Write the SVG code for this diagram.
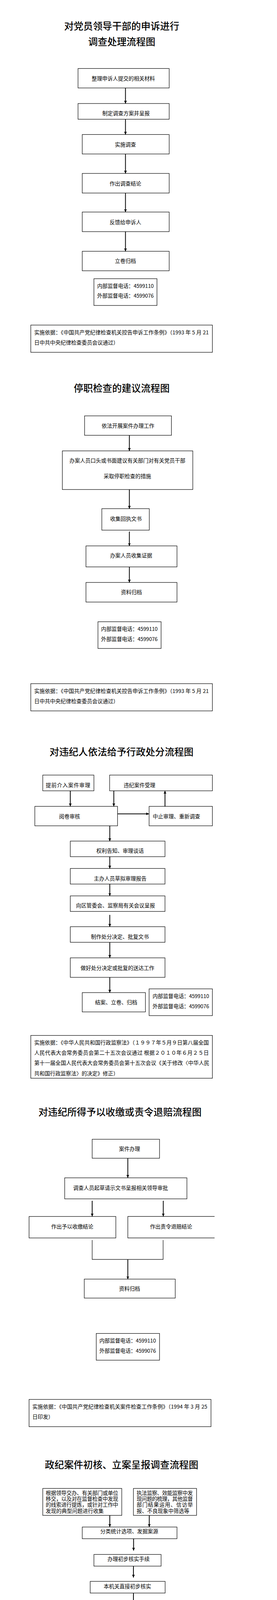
<svg xmlns="http://www.w3.org/2000/svg" width="710" height="7500" viewBox="0 0 710 7500">
<style>
text{font-family:"Noto Sans CJK SC","Noto Sans CJK JP",sans-serif;font-size:13.5px;fill:#000}
.m{text-anchor:middle}
.h{font-size:24.6px;font-weight:500}
.b{fill:#fff;stroke:#000;stroke-width:1.2}
.o{fill:none;stroke:#000;stroke-width:1.2}
.a{fill:none;stroke:#000;stroke-width:2;marker-end:url(#arr)}
.l{fill:none;stroke:#000;stroke-width:1.2}
</style>
<defs>
<marker id="arr" markerWidth="8" markerHeight="8" refX="7" refY="3.5" orient="auto" markerUnits="userSpaceOnUse"><path d="M0,0 L7,3.5 L0,7 z" fill="#000"/></marker>
</defs>
<rect width="710" height="7500" fill="#fff"/>

<!-- Section 1 -->
<g id="title1"><text class="h m" x="312" y="76.3">对党员领导干部的申诉进行</text><text class="h m" x="312" y="116.3">调查处理流程图</text></g>
<g id="s1n1"><rect class="b" x="200" y="175.4" width="233.6" height="49.8"/><text class="m" x="316" y="205.6">整理申诉人提交的相关材料</text></g>
<g id="s1n2"><rect class="b" x="200" y="265" width="233.6" height="40.3"/><text class="m" x="323" y="295.3">制定调查方案并呈报</text></g>
<g id="s1n3"><rect class="b" x="210.8" y="344.4" width="222.8" height="49.8"/><text class="m" x="321.6" y="374.6">实施调查</text></g>
<g id="s1n4"><rect class="b" x="210.8" y="444" width="222.8" height="50.2"/><text class="m" x="321.6" y="474.6">作出调查结论</text></g>
<g id="s1n5"><rect class="b" x="210.8" y="542.8" width="222.8" height="50.2"/><text class="m" x="321.6" y="573.9">反馈给申诉人</text></g>
<g id="s1n6"><rect class="b" x="210.8" y="643.3" width="222.8" height="49.9"/><text class="m" x="321.6" y="673.1">立卷归档</text></g>
<g id="s1phone"><rect class="b" x="240.7" y="713.5" width="161.7" height="68.5"/><text x="249" y="736.5" textLength="145">内部监督电话：4599110</text><text x="249" y="762.4" textLength="145">外部监督电话：4599076</text></g>
<g id="s1basis"><rect class="b" x="78.9" y="832.2" width="465.5" height="69.7"/><text x="87.7" y="855.7" textLength="447.3">实施依据：《中国共产党纪律检查机关控告申诉工作条例》（1993 年 5 月 21</text><text x="87.7" y="881.6">日中共中央纪律检查委员会议通过）</text></g>

<!-- Section 2 -->
<g id="title2"><text class="h m" x="312" y="1002.9">停职检查的建议流程图</text></g>
<g id="s2n1"><rect class="b" x="216.8" y="1064.6" width="222.6" height="49.8"/><text class="m" x="328" y="1094.8">依法开展案件办理工作</text></g>
<g id="s2n2"><rect class="b" x="159.8" y="1154.3" width="334.4" height="98.9"/><text class="m" x="326.4" y="1184.1">办案人员口头或书面建议有关部门对有关党员干部</text><text class="m" x="326.4" y="1224">采取停职检查的措施</text></g>
<g id="s2n3"><rect class="b" x="261" y="1302.2" width="121.6" height="55"/><text class="m" x="322.8" y="1332.8">收集回执文书</text></g>
<g id="s2n4"><rect class="b" x="220.4" y="1397.5" width="233.2" height="53.8"/><text class="m" x="336" y="1427.3">办案人员收集证据</text></g>
<g id="s2n5"><rect class="b" x="220.4" y="1491.1" width="233.2" height="50.2"/><text class="m" x="336.8" y="1521.3">资料归档</text></g>
<g id="s2phone"><rect class="b" x="251.1" y="1591.6" width="161.8" height="68.5"/><text x="259.1" y="1614.6" textLength="145">内部监督电话：4599110</text><text x="259.1" y="1640.5" textLength="145">外部监督电话：4599076</text></g>
<g id="s2basis"><rect class="b" x="78.9" y="1750.2" width="465.5" height="69.7"/><text x="87.7" y="1773.6" textLength="447.3">实施依据：《中国共产党纪律检查机关控告申诉工作条例》（1993 年 5 月 21</text><text x="87.7" y="1799.5">日中共中央纪律检查委员会议通过）</text></g>

<!-- Section 3 -->
<g id="title3"><text class="h m" x="311.5" y="1934.1">对违纪人依法给予行政处分流程图</text></g>
<g id="s3n1"><rect class="b" x="109.6" y="1984.2" width="131.1" height="40.3"/><text x="117.2" y="2014.8" textLength="114">提前介入案件审理</text></g>
<g id="s3n2"><rect class="b" x="281" y="1984.2" width="263.4" height="40.3"/><text x="316.9" y="2014.8">违纪案件受理</text></g>
<g id="s3n3"><rect class="b" x="89.3" y="2064.3" width="212" height="49.8"/><text class="m" x="178.2" y="2094.5">阅卷审核</text></g>
<g id="s3n4"><rect class="b" x="382.2" y="2064.3" width="162.2" height="49.8"/><text x="391.4" y="2094.5">中止审理、重新调查</text></g>
<g id="s3n5"><rect class="b" x="180.2" y="2153.2" width="242.7" height="39.9"/><text class="m" x="307.7" y="2183.4">权利告知、审理谈话</text></g>
<g id="s3n6"><rect class="b" x="180.2" y="2223.3" width="242.7" height="39.9"/><text class="m" x="307.9" y="2253.6">主办人员草拟审理报告</text></g>
<g id="s3n7"><rect class="b" x="180.2" y="2293.5" width="242.7" height="39.8"/><text class="m" x="295.9" y="2323.3">向区管委会、监察局有关会议呈报</text></g>
<g id="s3n8"><rect class="b" x="180.2" y="2372.4" width="242.7" height="39.9"/><text class="m" x="307.3" y="2402.6">制作处分决定、批复文书</text></g>
<g id="s3n9"><rect class="b" x="180.2" y="2452.1" width="242.7" height="49.9"/><text class="m" x="301.1" y="2482.7">做好处分决定或批复的送达工作</text></g>
<g id="s3n10"><rect class="b" x="210.8" y="2541.1" width="161.9" height="49.4"/><text class="m" x="297.7" y="2570.5">结案、立卷、归档</text></g>
<g id="s3phone"><rect class="b" x="382.2" y="2531.5" width="162.2" height="68.5"/><text x="391" y="2554.5" textLength="145">内部监督电话：4599110</text><text x="391" y="2580.8" textLength="145">外部监督电话：4599076</text></g>
<g id="s3basis"><rect class="b" x="78.9" y="2650.7" width="465.5" height="109.6"/><text x="87.7" y="2674.1" textLength="447.6">实施依据：《中华人民共和国行政监察法》（１９９７年５月９日第八届全国</text><text x="87.7" y="2700.4" textLength="447.6">人民代表大会常务委员会第二十五次会议通过 根据２０１０年６月２５日</text><text x="87.7" y="2726.3" textLength="448.8">第十一届全国人民代表大会常务委员会第十五次会议《关于修改〈中华人民</text><text x="87.7" y="2752.6">共和国行政监察法〉的决定》修正）</text></g>

<!-- Section 4 -->
<g id="title4"><text class="h m" x="307.5" y="2856">对违纪所得予以收缴或责令退赔流程图</text></g>
<g id="s4n1"><rect class="b" x="236.3" y="2916.5" width="172.6" height="48.6"/><text class="m" x="332" y="2945.5">案件办理</text></g>
<g id="s4n2"><rect class="b" x="165.8" y="3015.3" width="313.3" height="53.8"/><text class="m" x="309.1" y="3045.9">调查人员起草请示文书呈报相关领导审批</text></g>
<g id="s4n3"><rect class="b" x="74.5" y="3114.2" width="222.4" height="55"/><text class="m" x="185.3" y="3144.8">作出予以收缴结论</text></g>
<g id="s4n4"><path class="o" d="M550,3114.2 H327.6 V3169.2 H550"/><text class="m" x="438.4" y="3144.8">作出责令退赔结论</text></g>
<g id="s4n5"><rect class="b" x="216" y="3274.5" width="233.2" height="48.6"/><text class="m" x="332" y="3303.9">资料归档</text></g>
<g id="s4phone"><rect class="b" x="246.7" y="3413.6" width="162.2" height="68.5"/><text x="254.7" y="3436.6" textLength="145">内部监督电话：4599110</text><text x="254.7" y="3462.5" textLength="145">外部监督电话：4599076</text></g>
<g id="s4basis"><rect class="b" x="74.5" y="3582.5" width="466.3" height="69.8"/><text x="82.9" y="3605.6" textLength="448.4">实施依据：《中国共产党纪律检查机关案件检查工作条例》（1994 年 3 月 25</text><text x="82.9" y="3631.5">日印发）</text></g>

<!-- Section 5 -->
<g id="title5"><text class="h m" x="311.7" y="3759.1">政纪案件初核、立案呈报调查流程图</text></g>
<g id="s5n1"><rect class="b" x="109.6" y="3810.4" width="202.5" height="69"/><text x="117.2" y="3826.7" textLength="185.7">根据领导交办、有关部门或单位</text><text x="117.2" y="3841.8" textLength="185.7">移交，以及对在监督检查中发现</text><text x="117.2" y="3857.4" textLength="185.7">的线索进行提炼，或针对工作中</text><text x="117.2" y="3872.5">发现的典型问题进行收集</text></g>
<g id="s5n2"><rect class="b" x="342" y="3810.4" width="161.8" height="69"/><text x="350.3" y="3826.7" textLength="143.9">执法监察、效能监察中发</text><text x="350.3" y="3841.8" textLength="143.9">现问题的梳理，其他监督</text><text x="350.3" y="3857.4" textLength="143.9">部门结果运用、信访举</text><text x="350.3" y="3872.5">报、不良现象中筛选等</text></g>
<g id="s5n3"><rect class="b" x="210.8" y="3909.2" width="242.8" height="29.9"/><text class="m" x="331.3" y="3925.1">分类统计选项、发掘案源</text></g>
<g id="s5n4"><rect class="b" x="240.7" y="3979.4" width="172.2" height="29.9"/><text class="m" x="329.6" y="3996.1">办理初步核实手续</text></g>
<g id="s5n5"><rect class="b" x="231.2" y="4048.3" width="192.1" height="29.9"/><text class="m" x="326.4" y="4065.8">本机关直接初步核实</text></g>
<g id="s5n6"><rect class="b" x="261.1" y="4108.5" width="141.5" height="39.5"/><text class="m" x="331.5" y="4124.8">形成初核报告提出处</text><text class="m" x="331.5" y="4139.5">理建议报领导签批</text></g>
<g id="s5n7"><rect class="b" x="261.1" y="4188.2" width="151.8" height="29.9"/><text class="m" x="336.8" y="4204.5">对初核结果处理</text></g>
<g id="s5n8"><rect class="b" x="190.5" y="4247.2" width="131.1" height="59.8"/><text class="m" x="255.3" y="4264.7">失实的，一定范围</text><text class="m" x="255.3" y="4279.4">澄清轻微的，予以</text><text class="m" x="255.3" y="4294.2">恰当处理</text></g>
<g id="s5n9"><rect class="b" x="332.4" y="4247.2" width="161.8" height="39.9"/><text class="m" x="412.5" y="4264.7">确有违纪事实需追究</text><text class="m" x="412.5" y="4279.4">政纪责任的建议立案</text></g>
<g id="s5n10"><rect class="b" x="342" y="4317.8" width="111.6" height="29.9"/><text class="m" x="396.8" y="4334.5">进入立案程序</text></g>
<g id="s5n11"><rect class="b" x="342" y="4377.2" width="111.6" height="29.9"/><text class="m" x="397" y="4393.1">调查</text></g>
<g id="s5n12"><rect class="b" x="342" y="4436.2" width="111.6" height="29.9"/><text class="m" x="397" y="4453.7">结案</text></g>
<g id="s5phone"><rect class="b" x="139.5" y="4377.2" width="161.8" height="69.4"/><text x="147.9" y="4400.6" textLength="145">内部监督电话：4599110</text><text x="147.9" y="4426.6" textLength="145">外部监督电话：4599076</text></g>
<g id="s5basis"><rect class="b" x="78.9" y="4506.3" width="465.5" height="110.1"/><text x="87.7" y="4529.8" textLength="447.6">实施依据：《中华人民共和国行政监察法》（１９９７年５月９日第八届全国</text><text x="87.7" y="4556.1" textLength="447.6">人民代表大会常务委员会第二十五次会议通过 根据２０１０年６月２５日</text><text x="87.7" y="4582.4" textLength="448.8">第十一届全国人民代表大会常务委员会第十五次会议《关于修改〈中华人民</text><text x="87.7" y="4608.7">共和国行政监察法〉的决定》修正）</text></g>

<!-- Section 6 -->
<g id="title6"><text class="h m" x="311.7" y="4707.8">党纪案件初核、立案呈报调查流程图</text></g>
<g id="s6n1"><rect class="b" x="109.6" y="4758.6" width="202.5" height="68.6"/><text x="117.2" y="4774.5" textLength="185.7">根据领导交办、有关部门或单位</text><text x="117.2" y="4789.6" textLength="185.7">移交，以及对在监督检查中发现</text><text x="117.2" y="4805.2" textLength="185.7">的线索进行提炼，或针对工作中</text><text class="m" x="210.5" y="4820.3">发现的典型问题进行收集</text></g>
<g id="s6n2"><rect class="b" x="342" y="4768.2" width="141.5" height="59"/><text class="m" x="412.5" y="4784.5">其他监督部门结果运</text><text class="m" x="412.5" y="4799.6">用、信访举报、不良</text><text class="m" x="412.5" y="4814.4">现象中筛选等</text></g>
<g id="s6n3"><rect class="b" x="210.8" y="4857.1" width="242.8" height="29.9"/><text class="m" x="331.3" y="4873.4">分类统计选项、发掘案源</text></g>
<g id="s6n4"><rect class="b" x="240.7" y="4927.2" width="172.2" height="30"/><text class="m" x="329.6" y="4943.9">办理初步核实手续</text></g>
<g id="s6n5"><rect class="b" x="231.2" y="4996.2" width="192.1" height="29.9"/><text class="m" x="326.4" y="5014.1">本机关直接初步核实</text></g>
<g id="s6n6"><rect class="b" x="261.1" y="5056.4" width="141.5" height="39.9"/><text class="m" x="331.5" y="5072.7">形成初核报告提出处</text><text class="m" x="331.5" y="5088.2">理建议报领导签批</text></g>
<g id="s6n7"><rect class="b" x="261.1" y="5136.5" width="151.8" height="29.9"/><text class="m" x="336.8" y="5152.4">对初核结果处理</text></g>
<g id="s6n8"><rect class="b" x="190.5" y="5195.5" width="131.1" height="59.8"/><text class="m" x="255.3" y="5212.6">失实的，一定范围</text><text class="m" x="255.3" y="5227.7">澄清轻微的，予以</text><text class="m" x="255.3" y="5242.5">恰当处理</text></g>
<g id="s6n9"><rect class="b" x="332.4" y="5195.5" width="161.8" height="39.9"/><text class="m" x="412.5" y="5212.6">确有违纪事实需追究</text><text class="m" x="412.5" y="5227.7">党纪责任的建议立案</text></g>
<g id="s6n10"><rect class="b" x="342" y="5265.3" width="111.6" height="29.9"/><text class="m" x="396.8" y="5281.9">进入立案程序</text></g>
<g id="s6n11"><rect class="b" x="342" y="5325.4" width="111.6" height="29.9"/><text class="m" x="397" y="5341.3">调查</text></g>
<g id="s6n12"><rect class="b" x="342" y="5384.4" width="111.6" height="29.9"/><text class="m" x="397" y="5401.5">结案</text></g>
<g id="s6phone"><rect class="b" x="139.5" y="5325.4" width="161.8" height="68.6"/><text x="147.9" y="5348.5" textLength="145">内部监督电话：4599110</text><text x="147.9" y="5374.4" textLength="145">外部监督电话：4599076</text></g>
<g id="s6basis"><rect class="b" x="78.9" y="5454.2" width="465.5" height="110"/><text x="87.7" y="5477.6" textLength="447.6">实施依据：《中华人民共和国行政监察法》（１９９７年５月９日第八届全国</text><text x="87.7" y="5504.3" textLength="447.6">人民代表大会常务委员会第二十五次会议通过 根据２０１０年６月２５日</text><text x="87.7" y="5530.2" textLength="448.8">第十一届全国人民代表大会常务委员会第十五次会议《关于修改〈中华人民</text><text x="87.7" y="5556.5">共和国行政监察法〉的决定》修正）</text></g>

<!-- Section 7 -->
<g id="title7"><text class="h m" x="311.5" y="5666.9">制发纪律检查建议书流程图</text></g>
<g id="s7n1"><rect class="b" x="231.2" y="5744.9" width="161" height="29.5"/><text class="m" x="310.7" y="5765.6">经批准开展调查取证</text></g>
<g id="s7n2"><rect class="b" x="261.1" y="5803.5" width="101.2" height="29.5"/><text class="m" x="311.3" y="5826.6">情况属实</text></g>
<g id="s7n3"><rect class="b" x="170.2" y="5862.1" width="81.3" height="57.8"/><text x="177.8" y="5884.7" textLength="64">纠 正 错 误</text><text x="177.8" y="5909.9">做法</text></g>
<g id="s7n4"><rect class="b" x="301.3" y="5862.1" width="91.7" height="57.8"/><text class="m" x="346.8" y="5878.8">构成违纪</text><text class="m" x="346.8" y="5893.9">违法的进行</text><text class="m" x="346.8" y="5908.3">责任追究</text></g>
<g id="s7n5"><rect class="b" x="149.9" y="5959" width="263.4" height="29.1"/><text class="m" x="280.7" y="5975.2">起草纪律检查建议书、呈报审批和发放</text></g>
<g id="s7n6"><rect class="b" x="231.2" y="6027.1" width="151.4" height="39.1"/><text class="m" x="293" y="6050.1">立卷、归档</text></g>
<g id="s7phone"><rect class="b" x="220.4" y="6114" width="162.2" height="68.6"/><text x="229.2" y="6137.8" textLength="145">内部监督电话：4599110</text><text x="229.2" y="6163.3" textLength="145">外部监督电话：4599076</text></g>
<g id="s7basis"><rect class="b" x="78.9" y="6401.7" width="465.5" height="68.1"/><text x="87.7" y="6424.3" textLength="447.6">实施依据：《中国共产党纪律检查机关案件检查工作条例》（1994 年 3 月 25</text><text x="87.7" y="6449.8">日印发）</text></g>

<!-- Section 8 -->
<g id="title8"><text class="h m" x="311.7" y="6568.8">制发监察决定书或监察建议书流程图</text></g>
<g id="s8n1"><rect class="b" x="261.1" y="6618.5" width="111.6" height="27.9"/><text class="m" x="316" y="6640.3">立项</text></g>
<g id="s8n2"><rect class="b" x="261.1" y="6675.9" width="111.6" height="29.5"/><text class="m" x="316" y="6699.3">制定方案</text></g>
<g id="s8n3"><rect class="b" x="200.1" y="6734.5" width="233.5" height="39"/><text class="m" x="316" y="6757.1">开展调查</text></g>
<g id="s8n4"><rect class="b" x="129.9" y="6822.6" width="202.5" height="60.8"/><text class="m" x="230.2" y="6865.8">撰写监察报告，提出处理意见</text></g>
<g id="s8n5"><rect class="b" x="352.3" y="6822.6" width="131.2" height="70.4"/><text x="370.7" y="6859.8">发现违纪违法问</text><text x="370.7" y="6884.2">题，走立案程序</text></g>
<g id="s8n6"><rect class="b" x="180.2" y="6931.3" width="273.4" height="47"/><text class="m" x="316.1" y="6960.3">撰写决定书或建议书，呈报审批</text></g>
<g id="s8n7"><rect class="b" x="220.4" y="7024.9" width="192.5" height="37.9"/><text class="m" x="309.9" y="7048.4">发出监察建议或决定</text></g>
<g id="s8n8"><rect class="b" x="261.1" y="7100.7" width="111.6" height="28.3"/><text class="m" x="316" y="7122.9">资料归档</text></g>
<g id="s8phone"><rect class="b" x="231.2" y="7167.2" width="161.8" height="65"/><text x="239.1" y="7189.1" textLength="145">内部监督电话：4599110</text><text x="239.1" y="7213.8" textLength="145">外部监督电话：4599076</text></g>
<g id="s8basis"><rect class="b" x="78.9" y="7280" width="465.5" height="103.6"/><text x="87.7" y="7302.3" textLength="447.6">实施依据：《中华人民共和国行政监察法》（１９９７年５月９日第八届全国</text><text x="87.7" y="7327.4" textLength="447.6">人民代表大会常务委员会第二十五次会议通过 根据２０１０年６月２５日</text><text x="87.7" y="7352.5" textLength="448.8">第十一届全国人民代表大会常务委员会第十五次会议《关于修改〈中华人民</text><text x="87.7" y="7376.8">共和国行政监察法〉的决定》修正）</text></g>

<g id="connectors">
<path class="a" d="M321.6,225.2 V265"/>
<path class="a" d="M321.6,305.3 V344.4"/>
<path class="a" d="M321.6,394.2 V444"/>
<path class="a" d="M321.6,494.2 V542.8"/>
<path class="a" d="M321.6,593 V643.3"/>

<path class="a" d="M331.6,1114.4 V1154.3"/>
<path class="a" d="M331.6,1253.2 V1302.2"/>
<path class="a" d="M331.6,1360.8 V1397.5"/>
<path class="a" d="M331.6,1451.3 V1491.1"/>

<path class="a" d="M180.2,2024.5 V2063.9"/>
<path class="a" d="M291.7,2024.5 V2063.9"/>
<path class="a" d="M301.3,2083.4 H381.8"/>
<path class="a" d="M422.9,2064.3 V2024.5"/>
<path class="a" d="M281.4,2114.1 V2153.2"/>
<path class="a" d="M281.4,2193.1 V2223.3"/>
<path class="a" d="M281.4,2263.2 V2293.5"/>
<path class="a" d="M281.4,2342.1 V2372.4"/>
<path class="a" d="M281.4,2412.3 V2452.1"/>
<path class="a" d="M281.4,2502 V2541.1"/>

<path class="a" d="M327.6,2965.1 V3014.9"/>
<path class="a" d="M236.3,3073.9 V3113.8"/>
<path class="a" d="M418.5,3073.9 V3113.8"/>
<path class="l" d="M236.3,3174.4 V3224.2 H418.1 V3174.4"/>
<path class="a" d="M327.6,3224.2 V3274.5"/>

<path class="a" d="M281.4,3879.4 V3908.8"/>
<path class="a" d="M382.6,3879.4 V3908.8"/>
<path class="a" d="M342.4,3939.1 V3969.4"/>
<path class="a" d="M342,4009.3 V4038.4"/>
<path class="a" d="M342,4078.2 V4108.1"/>
<path class="a" d="M342,4148 V4177.5"/>
<path class="a" d="M281.4,4218.1 V4246.8"/>
<path class="a" d="M393,4218.1 V4246.8"/>
<path class="a" d="M393,4287.1 V4317"/>
<path class="a" d="M393,4347.7 V4376.8"/>
<path class="a" d="M393,4407.1 V4435.8"/>

<path class="a" d="M281.4,4827.2 V4856.7"/>
<path class="a" d="M382.6,4827.2 V4856.7"/>
<path class="a" d="M342.4,4887 V4917.3"/>
<path class="a" d="M342,4957.2 V4986.7"/>
<path class="a" d="M342,5026.1 V5055.6"/>
<path class="a" d="M342,5096.3 V5125.8"/>
<path class="a" d="M281.4,5166.4 V5194.7"/>
<path class="a" d="M393,5166.4 V5194.7"/>
<path class="a" d="M393,5235.4 V5264.5"/>
<path class="a" d="M393,5295.2 V5324.3"/>
<path class="a" d="M393,5355.3 V5383.6"/>

<path class="a" d="M311.7,5774.4 V5802.7"/>
<path class="a" d="M261.1,5813.1 H220.4"/>
<path class="a" d="M220.4,5813.1 V5861.7"/>
<path class="a" d="M342,5833 V5861.7"/>
<path class="a" d="M210.4,5919.9 V5958.6"/>
<path class="a" d="M342,5919.9 V5958.6"/>
<path class="a" d="M301.3,5988.1 V6026.3"/>

<path class="a" d="M311.7,6646.4 V6675.1"/>
<path class="a" d="M311.7,6705.4 V6734.1"/>
<path class="a" d="M261.1,6773.5 V6821.8"/>
<path class="a" d="M371.9,6773.5 V6821.8"/>
<path class="a" d="M261.1,6883.4 V6930.9"/>
<path class="a" d="M311.7,6978.3 V7024.5"/>
<path class="a" d="M311.7,7062.8 V7099.9"/>
</g>
</svg>
